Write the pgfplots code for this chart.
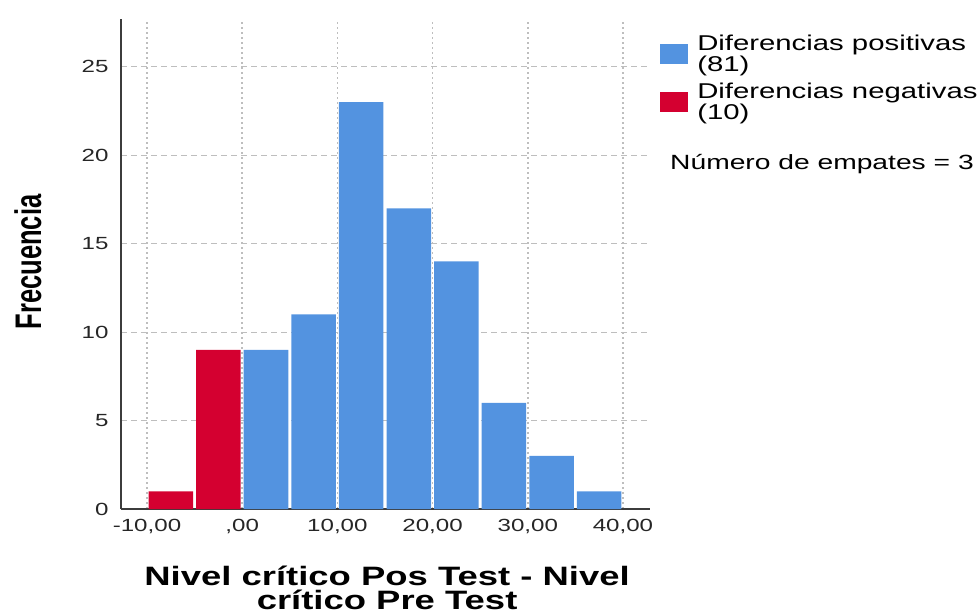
\documentclass[border=0pt]{standalone}
\usepackage{fontspec}
\setmainfont{Liberation Sans}[FakeStretch=1.37]
\newfontfamily\ylfont{Liberation Sans}[FakeStretch=0.69]
\usepackage{pgfplots}
\pgfplotsset{compat=1.18}
\definecolor{posblue}{RGB}{83,147,224}
\definecolor{negred}{RGB}{212,0,48}
\definecolor{gridgray}{RGB}{190,190,190}
\definecolor{axisgray}{RGB}{60,60,60}

\begin{document}
\begin{tikzpicture}
\useasboundingbox (-121pt,-104pt) rectangle (859pt,509pt);
\begin{axis}[
    scale only axis, width=529pt, height=490pt,
    xmin=-12.73, xmax=42.84, ymin=0, ymax=27.7,
    axis x line*=bottom, axis y line*=left,
    axis line style={axisgray, line width=1.3pt, -},
    xtick={-10,0,...,40},
    xticklabels={{-10,00},{,00},{10,00},{20,00},{30,00},{40,00}},
    ytick={0,5,...,25},
    major tick length=0pt,
    tick label style={font=\fontsize{17.6}{20}\selectfont, text=black!85},
    xticklabel style={yshift=-7pt},
    yticklabel style={xshift=-9pt},
    /pgf/number format/assume math mode=true,
    xmajorgrids, ymajorgrids,
    x grid style={gridgray, line width=1.5pt, dash pattern=on 2pt off 3pt},
    y grid style={gridgray, line width=1.1pt, dash pattern=on 6pt off 4pt},
    xlabel={Nivel crítico Pos Test - Nivel\\crítico Pre Test},
    xlabel style={font=\fontsize{26.6}{24}\selectfont\bfseries, align=center,
        at={(axis description cs:0.503,-0.161)}, anchor=center},
    ylabel={Frecuencia},
    ylabel style={font=\ylfont\fontsize{37}{40}\selectfont\bfseries,
        at={(axis description cs:-0.176,0.504)}, anchor=center},
    clip=false,
    legend style={at={(rel axis cs:1.019,0.971)}, anchor=north west,
        draw=none, fill=none, inner sep=0pt, row sep=6pt,
        font=\fontsize{21.4}{18}\selectfont,
        cells={anchor=west, align=left},
        /tikz/every odd column/.append style={column sep=7pt}},
]
\addplot[ybar, bar width=4.68, bar shift=0pt, fill=posblue, draw=none,
    legend image code/.code={\fill[posblue] (0pt,-10pt) rectangle (28pt,10pt);}]
    coordinates {(2.5,9) (7.5,11) (12.5,23) (17.5,17) (22.5,14) (27.5,6) (32.5,3) (37.5,1)};
\addlegendentry{Diferencias positivas\\(81)}
\addplot[ybar, bar width=4.68, bar shift=0pt, fill=negred, draw=none,
    legend image code/.code={\fill[negred] (0pt,-10pt) rectangle (28pt,10pt);}]
    coordinates {(-7.5,1) (-2.5,9)};
\addlegendentry{Diferencias negativas\\(10)}
\node[anchor=base west, font=\fontsize{20.6}{24}\selectfont, inner sep=0pt]
    at (rel axis cs:1.0378,0.692) {Número de empates = 3};
\end{axis}
\end{tikzpicture}
\end{document}
